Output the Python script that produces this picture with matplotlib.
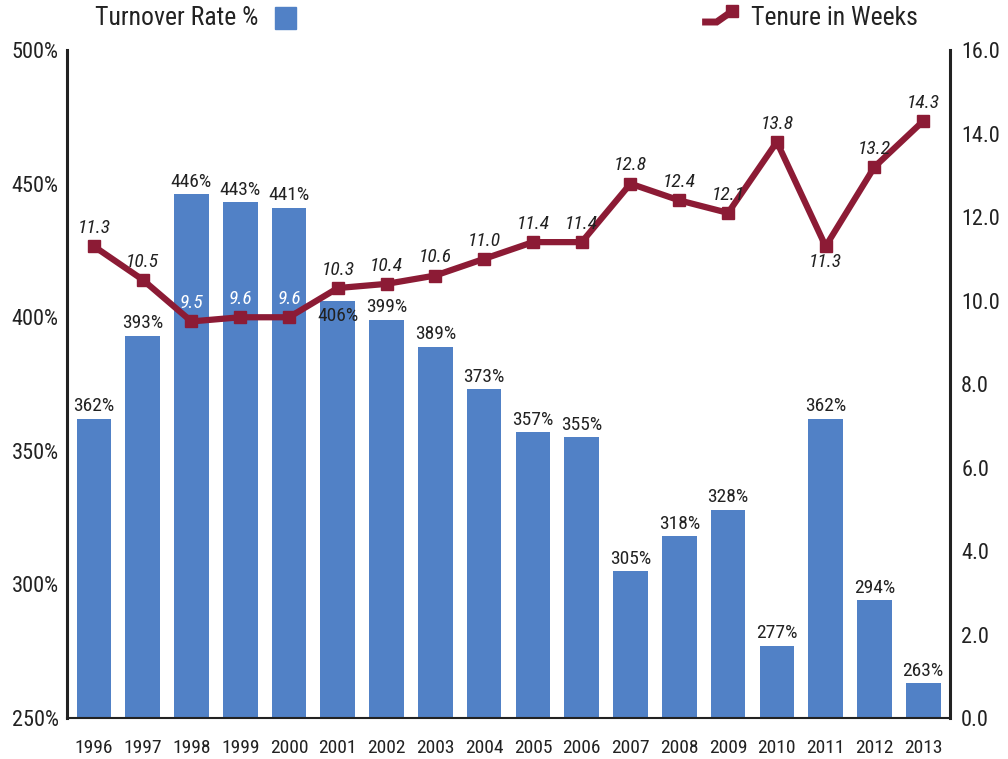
import matplotlib
matplotlib.use("Agg")
import matplotlib.pyplot as plt
from matplotlib import font_manager
from matplotlib.lines import Line2D
from matplotlib.patches import Rectangle

names = {f.name for f in font_manager.fontManager.ttflist}
cands = ['Roboto Condensed', 'Liberation Sans Narrow', 'Archivo Narrow', 'Barlow Semi Condensed']
FAM = [c for c in cands if c in names][:1] + ['DejaVu Sans']
plt.rcParams['font.family'] = FAM

years = ['1996', '1997', '1998', '1999', '2000', '2001', '2002', '2003', '2004',
         '2005', '2006', '2007', '2008', '2009', '2010', '2011', '2012', '2013']
turnover = [362, 393, 446, 443, 441, 406, 399, 389, 373, 357, 355, 305, 318, 328, 277, 362, 294, 263]
tenure = [11.3, 10.5, 9.5, 9.6, 9.6, 10.3, 10.4, 10.6, 11.0, 11.4, 11.4, 12.8, 12.4, 12.1, 13.8, 11.3, 13.2, 14.3]
left_ticks = [250, 300, 350, 400, 450, 500]
right_ticks = [0, 2, 4, 6, 8, 10, 12, 14, 16]

BAR = '#5181c6'
LINE = '#8c1b35'
TXT = '#222222'

fig = plt.figure(figsize=(10.08, 7.59), dpi=100)
ax = fig.add_axes([0.0665, 0.054, 0.876, 0.88])
x = list(range(len(years)))
ax.bar(x, [t - 250 for t in turnover], bottom=250, width=0.71, color=BAR, zorder=2)
ax.set_ylim(250, 500)
ax.set_xlim(-0.55, len(years) - 0.45)
ax.set_yticks(left_ticks)
ax.set_yticklabels([f'{t}%' for t in left_ticks], fontsize=16, color=TXT)
ax.set_xticks(x)
ax.set_xticklabels(years, fontsize=14, color=TXT)
ax.tick_params(axis='both', length=0, pad=6)
ax.tick_params(axis='x', pad=15)
for s in ['top', 'right']:
    ax.spines[s].set_visible(False)
ax.spines['left'].set_linewidth(2.2)
ax.spines['bottom'].set_linewidth(1.5)
ax.spines['left'].set_color(TXT)
ax.spines['bottom'].set_color(TXT)

for i, v in enumerate(turnover):
    if years[i] == '2001':
        ax.text(i, v - 2, f'{v}%', ha='center', va='top', fontsize=14, color=TXT, zorder=5)
    else:
        ax.text(i, v + 1.3, f'{v}%', ha='center', va='bottom', fontsize=14, color=TXT, zorder=5)

ax2 = ax.twinx()
ax2.set_ylim(0, 16)
ax2.set_yticks(right_ticks)
ax2.set_yticklabels([f'{t:.1f}' for t in right_ticks], fontsize=16, color=TXT)
ax2.tick_params(axis='y', length=0, pad=8)
for s in ['top', 'left', 'bottom']:
    ax2.spines[s].set_visible(False)
ax2.spines['right'].set_linewidth(2.2)
ax2.spines['right'].set_color(TXT)
ax2.plot(x, tenure, color=LINE, lw=4.5, marker='s', ms=8, zorder=4)

for i, v in enumerate(tenure):
    white = years[i] in ('1998', '1999', '2000')
    if years[i] == '2011':
        ax2.text(i, v - 0.17, f'{v:.1f}', ha='center', va='top', fontsize=14,
                 style='italic', color=TXT, zorder=5)
    else:
        ax2.text(i, v + 0.22, f'{v:.1f}', ha='center', va='bottom', fontsize=14,
                 style='italic', color='white' if white else TXT, zorder=5)

# Legend
fig.text(0.094, 0.976, 'Turnover Rate %', fontsize=18.5, color=TXT, va='center', ha='left')
fig.patches.append(Rectangle((0.273, 0.962), 0.021, 0.029, transform=fig.transFigure,
                             color=BAR, figure=fig))
fig.lines.append(Line2D([0.700, 0.711, 0.726], [0.971, 0.971, 0.985], transform=fig.transFigure,
                        color=LINE, lw=5, solid_joinstyle='miter', figure=fig))
fig.lines.append(Line2D([0.726], [0.985], transform=fig.transFigure, color=LINE,
                        marker='s', ms=9, figure=fig))
fig.text(0.745, 0.976, 'Tenure in Weeks', fontsize=18.5, color=TXT, va='center', ha='left')

fig.savefig('out.png', dpi=100)
